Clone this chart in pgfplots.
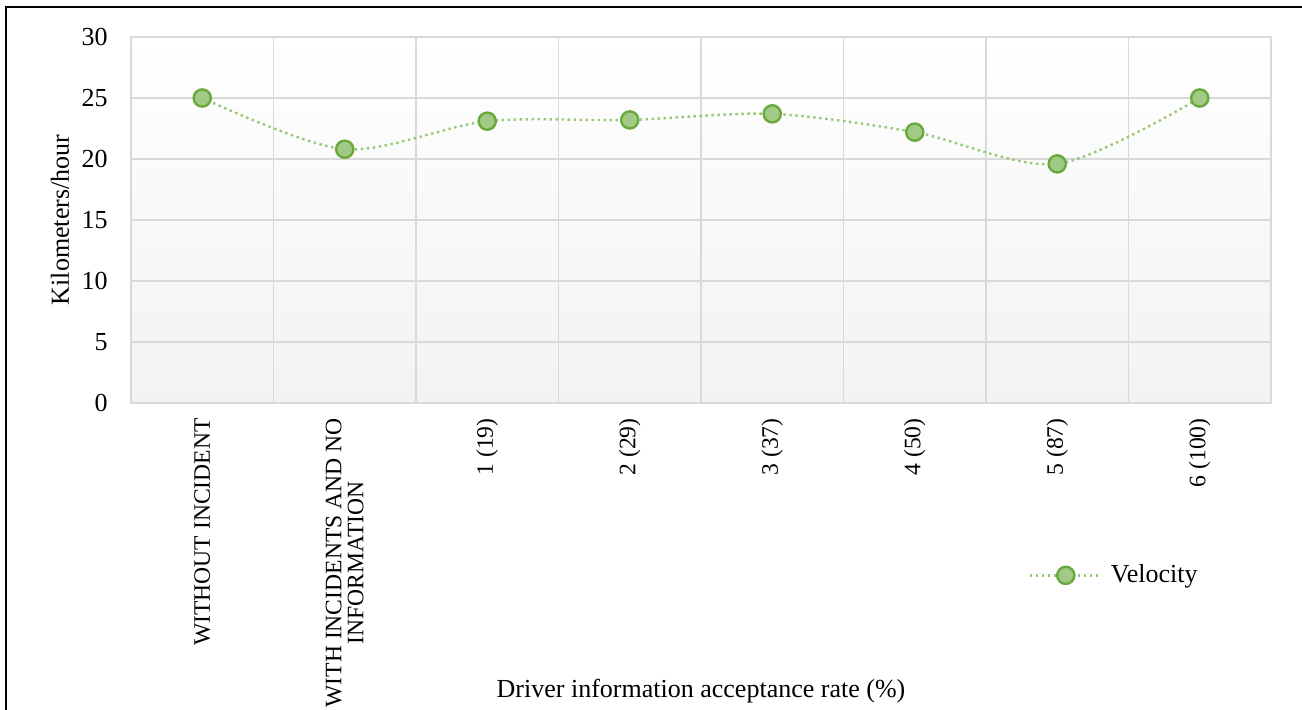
\documentclass[border=0pt]{standalone}
\usepackage{pgfplots}
\pgfplotsset{compat=1.18}
\usepackage{fontspec}
\setmainfont{Liberation Serif}

\definecolor{gridgray}{RGB}{217,217,217}
\definecolor{markfill}{RGB}{160,202,133}
\definecolor{markedge}{RGB}{106,170,61}
\definecolor{linegreen}{RGB}{150,200,120}

\begin{document}
\fontsize{13pt}{15.6pt}\selectfont
\begin{tikzpicture}
\useasboundingbox (0,0) rectangle (651pt,355pt);
% outer frame (left and top edges)
\draw[line width=1.4pt, black] (3pt,0pt) -- (3pt,351.5pt) -- (651pt,351.5pt);

\begin{axis}[
  at={(65.5pt,153.5pt)}, anchor=south west,
  scale only axis,
  width=570pt, height=183pt,
  xmin=-0.5, xmax=7.5,
  ymin=0, ymax=30,
  ytick={0,5,...,30},
  xtick={0,...,7},
  xticklabels={WITHOUT INCIDENT,{WITH INCIDENTS AND NO\\INFORMATION},1 (19),2 (29),3 (37),4 (50),5 (87),6 (100)},
  minor xtick={-0.5,0.5,...,7.5},
  xminorgrids=true, ymajorgrids=true,
  grid style={gridgray, line width=0.8pt},
  minor grid style={gridgray, line width=0.8pt},
  axis line style={gridgray, line width=0.8pt},
  major tick length=0pt, minor tick length=0pt,
  tick style={draw=none},
  axis background/.style={top color=white, bottom color=black!5},
  /pgf/number format/assume math mode=true,
  yticklabel style={font=\fontsize{13pt}{15.6pt}\selectfont, anchor=east, inner sep=0pt},
  yticklabel shift=11.5pt,
  xticklabel style={font=\fontsize{11.8pt}{11pt}\selectfont, rotate=90, anchor=east, inner sep=0pt, align=center},
  xticklabel shift=7.5pt,
  xlabel={Driver information acceptance rate (\%)},
  xlabel style={font=\fontsize{13pt}{15.6pt}\selectfont, at={(axis description cs:0.5,-0.786)}, anchor=center},
  ylabel={Kilometers/hour},
  ylabel style={font=\fontsize{13pt}{15.6pt}\selectfont, at={(axis description cs:-0.0623,0.5)}, anchor=center, rotate=0},
  legend style={at={(axis description cs:0.787,-0.471)}, anchor=west, draw=none, fill=none,
    font=\fontsize{13pt}{15.6pt}\selectfont, inner sep=0pt,
    /tikz/every odd column/.append style={column sep=2pt}},
  legend cell align=left,
  legend image code/.code={
    \draw[#1, mark=none] (0pt,0pt) -- (36pt,0pt);
    \draw[#1, only marks] plot coordinates {(18pt,0pt)};
  },
  clip=false,
]
\addplot[linegreen, line width=1.2pt, dash pattern=on 1.2pt off 1.8pt,
  smooth, tension=0.5,
  mark=*, mark size=4.3pt,
  mark options={solid, fill=markfill, draw=markedge, line width=1.2pt}]
  coordinates {(0,25.0) (1,20.8) (2,23.1) (3,23.2) (4,23.7) (5,22.2) (6,19.6) (7,25.0)};
\addlegendentry{Velocity}
\end{axis}
\end{tikzpicture}
\end{document}
